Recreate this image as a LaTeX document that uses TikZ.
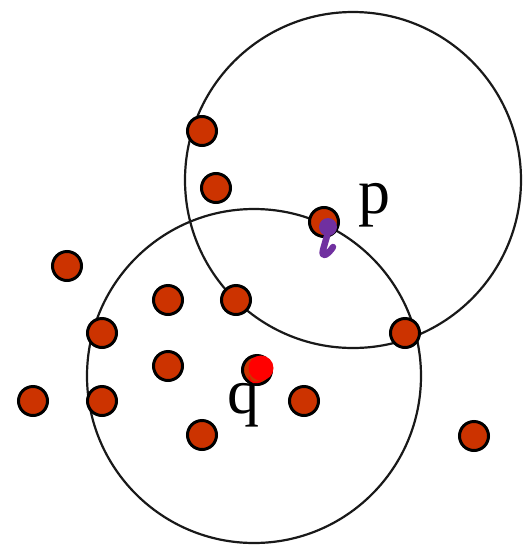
\documentclass[tikz,border=0pt]{standalone}
\usepackage{fontspec}
\setmainfont{Liberation Serif}
\definecolor{dotred}{HTML}{CC3300}
\definecolor{markpurple}{HTML}{7030A0}
\begin{document}
\begin{tikzpicture}[x=1pt,y=-1pt,
  dot/.style={circle,draw=black,line width=3pt,fill=dotred,minimum size=29pt,inner sep=0pt},
  ring/.style={draw=black!90,line width=2.2pt},
  lbl/.style={font=\fontsize{64}{66}\selectfont,inner sep=0pt,anchor=base}]
\useasboundingbox[fill=white] (0,0) rectangle (523,547);
% large circles
\draw[ring] (353,180) circle (168pt);
\draw[ring] (254,376) circle (167pt);
% points
\node[dot] (d1)  at (202,131) {};
\node[dot] (d2)  at (216,188) {};
\node[dot] (d3)  at (324,222) {};
\node[dot] (d4)  at (67,266) {};
\node[dot] (d5)  at (168,300) {};
\node[dot] (d6)  at (236,300) {};
\node[dot] (d7)  at (102,333) {};
\node[dot] (d8)  at (405,333) {};
\node[dot] (d9)  at (168,366) {};
\node[dot] (d10) at (257,370) {};
\node[dot] (d11) at (33,401) {};
\node[dot] (d12) at (102,401) {};
\node[dot] (d13) at (304,401) {};
\node[dot] (d14) at (202,435) {};
\node[dot] (d15) at (474,436) {};
% labels
\node[lbl] (p) at (374,213) {p};
\node[lbl] (q) at (243,413) {q};
% hand marks
\fill[markpurple] (328,227) circle (9pt);
\draw[markpurple,line width=6.5pt,line cap=round,line join=round]
  (327,236) -- (323,250) .. controls (321,256) and (325,256) .. (328,253)
  .. controls (330,251) and (332,249) .. (333,247);
\fill[red] (261,368) circle (12.5pt);
\draw[red,line width=1.5pt,line cap=round] (249,377) .. controls (250,383) and (256,384) .. (261,381);
\end{tikzpicture}
\end{document}
